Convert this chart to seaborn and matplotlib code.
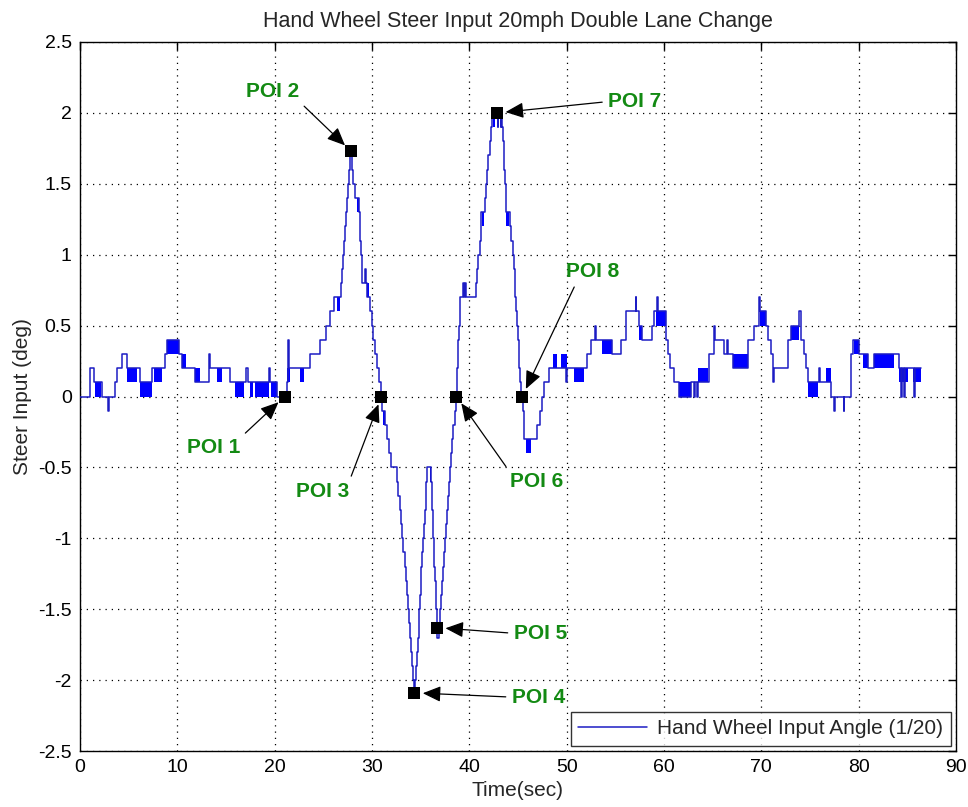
import matplotlib
matplotlib.use("Agg")
import matplotlib.pyplot as plt
from matplotlib.ticker import FuncFormatter, MultipleLocator
import pandas as pd
import seaborn as sns

# Hand wheel angle (scaled 1/20): each level is held from its time until the next one
time_s = [
    0.00, 1.03, 1.44, 2.23, 2.88, 2.96, 3.60, 3.77, 4.29, 4.80, 6.17, 7.37, 8.74, 8.92,
    10.22, 10.46, 11.83, 13.30, 13.40, 15.43, 17.10, 17.25, 19.45, 19.55, 20.20, 21.30,
    21.36, 21.44, 23.67, 24.70, 25.25, 25.72, 26.07, 26.86, 26.95, 27.03, 27.12, 27.22,
    27.34, 27.44, 27.55, 27.63, 27.72, 27.95, 28.05, 28.25, 28.62, 28.72, 28.80, 28.88,
    28.95, 29.02, 29.30, 29.38, 29.50, 29.84, 29.95, 30.10, 30.30, 30.50, 30.70, 30.90,
    31.05, 31.30, 31.55, 31.75, 31.95, 32.55, 32.70, 32.85, 32.98, 33.10, 33.22, 33.35,
    33.48, 33.60, 33.72, 33.82, 33.93, 34.03, 34.13, 34.22, 34.30, 34.45, 34.55, 34.65,
    34.73, 34.80, 34.87, 34.94, 35.00, 35.08, 35.17, 35.26, 35.33, 35.41, 35.50, 35.58,
    35.68, 36.10, 36.15, 36.20, 36.26, 36.31, 36.37, 36.42, 36.48, 36.53, 36.58, 36.63,
    36.68, 36.85, 36.96, 37.06, 37.17, 37.28, 37.39, 37.50, 37.60, 37.71, 37.82, 37.93,
    38.04, 38.15, 38.26, 38.37, 38.48, 38.62, 38.70, 38.76, 38.82, 38.87, 38.93, 38.99,
    39.05, 39.37, 39.42, 39.60, 39.65, 40.66, 40.80, 40.92, 41.05, 41.15, 41.25, 41.62,
    41.72, 41.82, 41.95, 42.08, 42.20, 42.32, 42.90, 42.96, 43.25, 43.30, 43.40, 43.47,
    43.53, 43.60, 43.66, 43.72, 43.78, 44.15, 44.30, 44.45, 44.58, 44.65, 44.72, 44.80,
    44.88, 44.97, 45.06, 45.15, 45.25, 45.35, 45.50, 45.58, 45.65, 46.98, 47.26, 47.50,
    47.67, 48.18, 49.98, 50.07, 52.05, 52.50, 52.95, 53.02, 54.70, 55.55, 56.07, 57.10,
    57.16, 57.44, 57.78, 58.81, 58.98, 59.30, 59.36, 60.18, 60.45, 60.65, 61.00, 61.50,
    62.75, 63.10, 63.16, 63.44, 63.50, 64.64, 65.16, 65.22, 66.18, 66.50, 66.56, 67.04,
    68.62, 69.20, 69.80, 69.88, 70.47, 70.64, 70.99, 71.20, 71.26, 72.70, 73.04, 73.90,
    74.07, 74.42, 74.59, 74.76, 75.90, 76.00, 77.16, 77.50, 77.56, 78.46, 78.52, 79.22,
    79.39, 80.07, 80.93, 81.62, 84.19, 84.36, 84.42, 84.70, 84.76, 85.73, 85.79, 86.42,
]
steer_deg = [
    0.0, 0.2, 0.1, 0.0, -0.1, 0.0, 0.1, 0.2, 0.3, 0.2, 0.1, 0.2, 0.3, 0.4,
    0.3, 0.2, 0.1, 0.3, 0.2, 0.1, 0.2, 0.1, 0.2, 0.1, 0.0, 0.1,
    0.4, 0.2, 0.3, 0.4, 0.5, 0.6, 0.7, 0.8, 0.9, 1.0, 1.1, 1.2,
    1.3, 1.4, 1.5, 1.6, 1.7, 1.6, 1.5, 1.4, 1.3, 1.2, 1.1, 1.0,
    0.9, 0.8, 0.9, 0.8, 0.7, 0.6, 0.5, 0.4, 0.3, 0.2, 0.1, 0.0,
    -0.1, -0.2, -0.3, -0.4, -0.5, -0.6, -0.7, -0.8, -0.9, -1.0, -1.1, -1.2,
    -1.3, -1.4, -1.5, -1.6, -1.7, -1.8, -1.9, -2.0, -2.1, -2.0, -1.9, -1.8,
    -1.7, -1.6, -1.5, -1.4, -1.3, -1.2, -1.1, -1.0, -0.9, -0.8, -0.7, -0.6,
    -0.5, -0.6, -0.7, -0.8, -0.9, -1.0, -1.1, -1.2, -1.3, -1.4, -1.5, -1.6,
    -1.7, -1.6, -1.5, -1.4, -1.3, -1.2, -1.1, -1.0, -0.9, -0.8, -0.7, -0.6,
    -0.5, -0.4, -0.3, -0.2, -0.1, 0.0, 0.1, 0.2, 0.3, 0.4, 0.5, 0.6,
    0.7, 0.8, 0.7, 0.8, 0.7, 0.8, 0.9, 1.0, 1.1, 1.2, 1.3, 1.4,
    1.5, 1.6, 1.7, 1.8, 1.9, 2.0, 1.9, 2.0, 1.9, 2.0, 1.9, 1.8,
    1.7, 1.6, 1.5, 1.4, 1.3, 1.2, 1.1, 1.0, 0.9, 0.8, 0.7, 0.6,
    0.5, 0.4, 0.3, 0.2, 0.1, 0.0, -0.1, -0.2, -0.3, -0.2, -0.1, 0.0,
    0.1, 0.2, 0.1, 0.2, 0.3, 0.4, 0.5, 0.4, 0.3, 0.4, 0.6, 0.7,
    0.6, 0.5, 0.4, 0.5, 0.6, 0.7, 0.6, 0.4, 0.3, 0.2, 0.1, 0.0,
    0.1, 0.0, 0.1, 0.0, 0.1, 0.3, 0.5, 0.4, 0.3, 0.4, 0.3, 0.2,
    0.4, 0.5, 0.7, 0.6, 0.5, 0.4, 0.3, 0.1, 0.2, 0.4, 0.5, 0.6,
    0.4, 0.3, 0.2, 0.1, 0.2, 0.1, 0.0, -0.1, 0.0, -0.1, 0.0, 0.3,
    0.4, 0.3, 0.2, 0.3, 0.2, 0.0, 0.2, 0.0, 0.2, 0.0, 0.2, 0.2,
]

# Stretches where the encoder flickers between two adjacent levels
toggle_start = [1.50, 4.80, 6.20, 7.60, 8.92, 10.46, 11.83, 14.06, 15.90, 17.50, 18.00,
                19.60, 21.30, 22.64, 26.41, 28.45, 29.50, 31.10, 35.95, 41.32, 42.40,
                43.80, 45.80, 48.60, 49.38, 50.75, 53.67, 57.44, 59.15, 61.55, 63.50,
                67.04, 69.88, 73.04, 74.76, 76.65, 79.56, 80.42, 81.62, 84.19, 85.56]
toggle_end = [2.20, 5.90, 7.37, 8.40, 10.22, 10.90, 12.35, 14.57, 16.80, 17.80, 19.40,
              20.20, 21.60, 22.98, 26.75, 28.62, 29.70, 31.30, 36.08, 41.55, 42.60,
              44.10, 46.30, 49.00, 50.00, 51.75, 54.70, 57.78, 60.18, 62.75, 64.47,
              68.58, 70.47, 73.90, 75.79, 77.16, 80.07, 80.93, 83.68, 85.05, 86.42]
toggle_low = [0.0, 0.1, 0.0, 0.1, 0.3, 0.2, 0.1, 0.1, 0.0, 0.0, 0.0,
              0.0, 0.1, 0.1, 0.6, 1.3, 0.7, -0.2, -0.6, 1.2, 1.9,
              1.2, -0.4, 0.2, 0.2, 0.1, 0.3, 0.4, 0.5, 0.0, 0.1,
              0.2, 0.5, 0.4, 0.0, 0.1, 0.3, 0.2, 0.2, 0.1, 0.1]
toggle_high = [0.1, 0.2, 0.1, 0.2, 0.4, 0.3, 0.2, 0.2, 0.1, 0.1, 0.1,
               0.1, 0.2, 0.2, 0.7, 1.4, 0.8, -0.1, -0.5, 1.3, 2.0,
               1.3, -0.3, 0.3, 0.3, 0.2, 0.4, 0.5, 0.6, 0.1, 0.2,
               0.3, 0.6, 0.5, 0.1, 0.2, 0.4, 0.3, 0.3, 0.2, 0.2]

# Points of interest on the manoeuvre
poi_names = ["POI 1", "POI 2", "POI 3", "POI 4", "POI 5", "POI 6", "POI 7", "POI 8"]
poi_time = [21.02, 27.85, 30.97, 34.36, 36.69, 38.68, 42.87, 45.44]
poi_value = [0.0, 1.73, 0.0, -2.09, -1.63, 0.0, 2.0, 0.0]

# Where each POI caption sits and which corner of it the arrow leaves from
label_time = [13.7, 19.75, 24.9, 47.1, 47.3, 46.9, 57.0, 52.7]
label_value = [-0.36, 2.15, -0.67, -2.12, -1.67, -0.60, 2.08, 0.88]
label_anchor = [(1, 1), (1, 0), (1, 1), (0, 0.5), (0, 0.5), (0, 1), (0, 0.5), (0.2, 0)]

sns.set_theme(style="white")
plt.rcParams["font.family"] = ["Liberation Sans", "DejaVu Sans"]
plt.rcParams["axes.unicode_minus"] = False

fig = plt.figure(figsize=(9.68, 8.07), dpi=100)
ax = fig.add_axes([80 / 968, (807 - 751) / 807, (956 - 80) / 968, (751 - 42) / 807])

for t0, t1, lo, hi in zip(toggle_start, toggle_end, toggle_low, toggle_high):
    ax.fill_between([t0, t1], [lo, lo], [hi, hi], color="#0000ff", linewidth=0, zorder=2)

signal = pd.DataFrame({"time": time_s, "steer": steer_deg})
sns.lineplot(data=signal, x="time", y="steer", drawstyle="steps-post", color="#1c1cc4",
             linewidth=1.1, estimator=None, sort=False,
             label="Hand Wheel Input Angle (1/20)", ax=ax, zorder=3)

sns.scatterplot(x=poi_time, y=poi_value, marker="s", s=85, color="black",
                edgecolor="black", linewidth=0, zorder=5, ax=ax, legend=False)

for name, t, v, lt, lv, rp in zip(poi_names, poi_time, poi_value,
                                  label_time, label_value, label_anchor):
    ax.annotate(name, xy=(t, v), xytext=(lt, lv), textcoords="data",
                ha="center", va="center", color="#138a13", fontsize=15,
                fontweight="bold", zorder=6,
                arrowprops=dict(arrowstyle="-|>,head_length=0.55,head_width=0.24",
                                color="black", lw=0.9, shrinkA=2, shrinkB=6,
                                relpos=rp, mutation_scale=20))

ax.set_xlim(0, 90)
ax.set_ylim(-2.5, 2.5)
ax.xaxis.set_major_locator(MultipleLocator(10))
ax.yaxis.set_major_locator(MultipleLocator(0.5))
ax.yaxis.set_major_formatter(FuncFormatter(lambda val, pos: f"{val:g}"))
ax.grid(True, color="black", linestyle=(0, (1, 4)), linewidth=0.9)
ax.tick_params(direction="in", top=True, right=True, length=6, width=1,
               labelsize=14, colors="black", pad=6)
for sp in ax.spines.values():
    sp.set_color("black")
    sp.set_linewidth(1.0)

ax.set_title("Hand Wheel Steer Input 20mph Double Lane Change", fontsize=15.5, pad=11)
ax.set_xlabel("Time(sec)", fontsize=15, labelpad=3)
ax.set_ylabel("Steer Input (deg)", fontsize=15, labelpad=4)

leg = ax.legend(loc="lower right", fontsize=15, frameon=True, fancybox=False,
                edgecolor="black", borderaxespad=0.25, handlelength=3.3,
                borderpad=0.35, handletextpad=0.5)
leg.get_frame().set_linewidth(1.0)

fig.savefig("out.png", dpi=100, facecolor="white")
